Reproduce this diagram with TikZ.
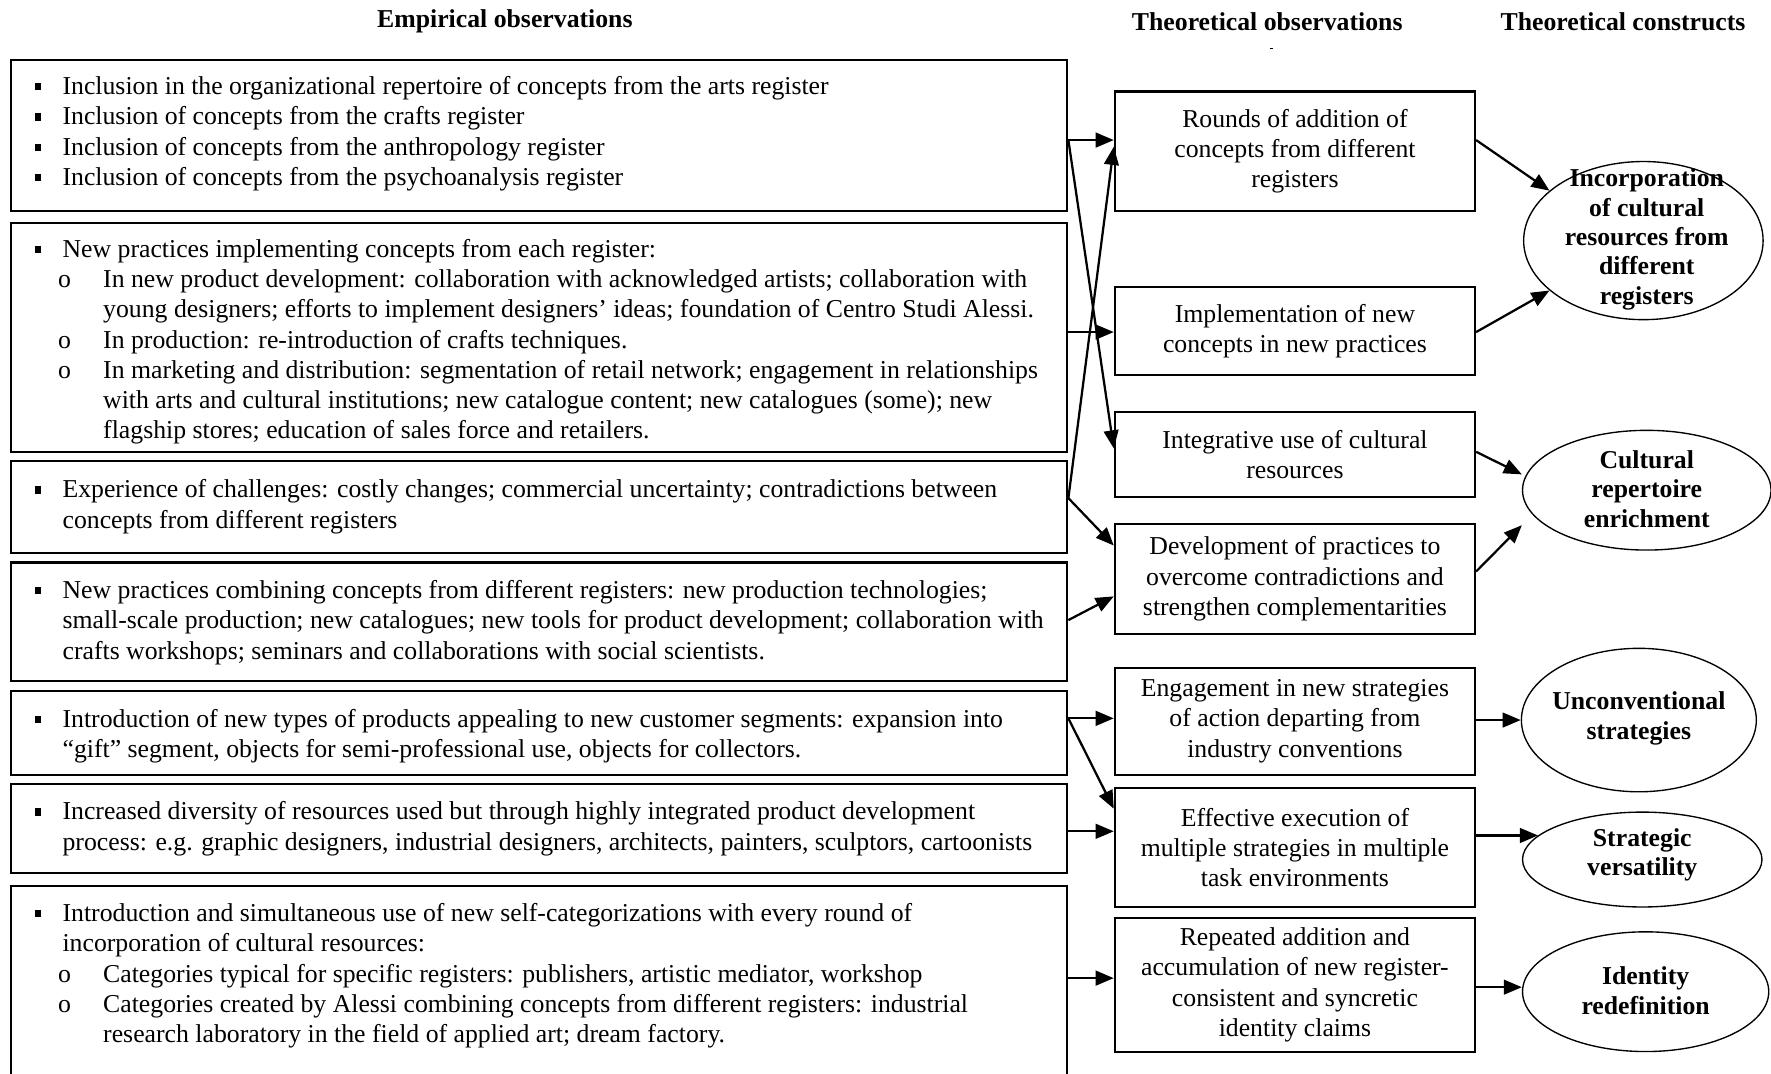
\documentclass[tikz,border=0pt]{standalone}
\usepackage{fontspec}
\setmainfont{Liberation Serif}
\usetikzlibrary{arrows.meta,shapes.geometric}
\newcommand\bsq{\raisebox{1.9pt}{\rule{2.6pt}{3.2pt}}}
\newcommand\Ba[1]{\makebox[12pt][l]{\bsq}#1}
\newcommand\Bc[1]{\hspace*{12pt}#1}
\newcommand\Sa[1]{\hspace*{10pt}\makebox[20pt][l]{o}#1}
\newcommand\Sc[1]{\hspace*{30pt}#1}
\tikzset{
  txtfont/.style={font=\fontsize{11.4pt}{13.4pt}\selectfont},
  lbox/.style={draw, line width=0.9pt, minimum width=467.5pt, inner sep=0pt},
  ltext/.style={txtfont, align=left, anchor=north west, inner sep=0pt},
  mbox/.style={draw, line width=0.9pt, minimum width=159.5pt, inner sep=0pt, txtfont, align=center},
  ell/.style={draw, ellipse, line width=0.6pt, inner sep=0pt},
  etext/.style={font=\fontsize{11.4pt}{13pt}\selectfont\bfseries, align=center, inner sep=0pt},
  hdr/.style={font=\fontsize{11.4pt}{13pt}\selectfont\bfseries, inner sep=0pt},
  arr/.style={line width=1pt, -{Triangle[length=8pt,width=6.5pt]}}
}
\begin{document}
\begin{tikzpicture}[x=0.5pt,y=-0.5pt]
\useasboundingbox (0,0) rectangle (1568,950);
\fill[white] (0,0) rectangle (1568,950);
\clip (0,0) rectangle (1568,950);

% headers
\node[hdr] (h1) at (447,19) {Empirical observations};
\node[hdr] (h2) at (1122,19) {Theoretical observations};
\node[hdr] (h3) at (1437,19) {Theoretical constructs};
\draw[line width=0.6pt] (1124,43) -- (1127,43);

% left boxes
\node[lbox, minimum height=67pt]   (B1) at (477.5,120) {};
\node[lbox, minimum height=101.5pt] (B2) at (477.5,298.5) {};
\node[lbox, minimum height=41pt]   (B3) at (477.5,449) {};
\node[lbox, minimum height=52.5pt] (B4) at (477.5,550.5) {};
\node[lbox, minimum height=37pt]   (B5) at (477.5,649) {};
\node[lbox, minimum height=39.5pt] (B6) at (477.5,733.5) {};
\node[lbox, minimum height=103pt]  (B7) at (477.5,887) {};

\node[ltext] (T1) at (31,67.4) {%
\Ba{Inclusion in the organizational repertoire of concepts from the arts register}\\
\Ba{Inclusion of concepts from the crafts register}\\
\Ba{Inclusion of concepts from the anthropology register}\\
\Ba{Inclusion of concepts from the psychoanalysis register}};

\node[ltext] (T2) at (31,211.4) {%
\Ba{New practices implementing concepts from each register:}\\
\Sa{In new product development: collaboration with acknowledged artists; collaboration with}\\
\Sc{young designers; efforts to implement designers’ ideas; foundation of Centro Studi Alessi.}\\
\Sa{In production: re-introduction of crafts techniques.}\\
\Sa{In marketing and distribution: segmentation of retail network; engagement in relationships}\\
\Sc{with arts and cultural institutions; new catalogue content; new catalogues (some); new}\\
\Sc{flagship stores; education of sales force and retailers.}};

\node[ltext] (T3) at (31,424.4) {%
\Ba{Experience of challenges: costly changes; commercial uncertainty; contradictions between}\\
\Bc{concepts from different registers}};

\node[ltext] (T4) at (31,513.4) {%
\Ba{New practices combining concepts from different registers: new production technologies;}\\
\Bc{small-scale production; new catalogues; new tools for product development; collaboration with}\\
\Bc{crafts workshops; seminars and collaborations with social scientists.}};

\node[ltext] (T5) at (31,627.4) {%
\Ba{Introduction of new types of products appealing to new customer segments: expansion into}\\
\Bc{“gift” segment, objects for semi-professional use, objects for collectors.}};

\node[ltext] (T6) at (31,709.4) {%
\Ba{Increased diversity of resources used but through highly integrated product development}\\
\Bc{process: e.g. graphic designers, industrial designers, architects, painters, sculptors, cartoonists}};

\node[ltext] (T7) at (31,799.4) {%
\Ba{Introduction and simultaneous use of new self-categorizations with every round of}\\
\Bc{incorporation of cultural resources:}\\
\Sa{Categories typical for specific registers: publishers, artistic mediator, workshop}\\
\Sa{Categories created by Alessi combining concepts from different registers: industrial}\\
\Sc{research laboratory in the field of applied art; dream factory.}};

% middle boxes
\node[mbox, minimum height=53pt]   (M1) at (1146.5,134)   {Rounds of addition of\\concepts from different\\registers};
\node[mbox, minimum height=39pt]   (M2) at (1146.5,293)   {Implementation of new\\concepts in new practices};
\node[mbox, minimum height=37.5pt] (M3) at (1146.5,402.5) {Integrative use of cultural\\resources};
\node[mbox, minimum height=48.5pt] (M4) at (1146.5,512.5) {Development of practices to\\overcome contradictions and\\strengthen complementarities};
\node[mbox, minimum height=47.5pt] (M5) at (1146.5,638.5) {Engagement in new strategies\\of action departing from\\industry conventions};
\node[mbox, minimum height=52.5pt] (M6) at (1146.5,750.5) {Effective execution of\\multiple strategies in multiple\\task environments};
\node[mbox, minimum height=59pt]   (M7) at (1146.5,872)   {Repeated addition and\\accumulation of new register-\\consistent and syncretic\\identity claims};

% ellipses
\node[ell, minimum width=106pt, minimum height=70pt]   (E1) at (1455,213) {};
\node[ell, minimum width=110pt, minimum height=53pt]   (E2) at (1458,434) {};
\node[ell, minimum width=104pt, minimum height=63.5pt] (E3) at (1451,637.5) {};
\node[ell, minimum width=106pt, minimum height=42pt]   (E4) at (1454,761) {};
\node[ell, minimum width=109pt, minimum height=53pt]   (E5) at (1457,878) {};
\node[etext] (E1t) at (1458,212) {Incorporation\\of cultural\\resources from\\different\\registers};
\node[etext] (E2t) at (1458,433) {Cultural\\repertoire\\enrichment};
\node[etext] (E3t) at (1451,636) {Unconventional\\strategies};
\node[etext] (E4t) at (1454,757) {Strategic\\versatility};
\node[etext] (E5t) at (1457,877) {Identity\\redefinition};

% connectors left -> middle
\draw[arr] (B1.east |- 0,124) -- (M1.west |- 0,124);
\draw[arr] (B1.east |- 0,124) -- (M3.west |- 0,397);
\draw[arr] (B2.east |- 0,294) -- (M2.west |- 0,294);
\draw[arr] (B3.east |- 0,441) -- (M1.west |- 0,130);
\draw[arr] (B3.east |- 0,441) -- (M4.west |- 0,483);
\draw[arr] (B4.east |- 0,549) -- (M4.west |- 0,528);
\draw[arr] (B5.east |- 0,636) -- (M5.west |- 0,636);
\draw[arr] (B5.east |- 0,636) -- (M6.west |- 0,716);
\draw[arr] (B6.east |- 0,736) -- (M6.west |- 0,736);
\draw[arr] (B7.east |- 0,866) -- (M7.west |- 0,866);

% connectors middle -> constructs
\draw[arr] (M1.east |- 0,124) -- (E1.152);
\draw[arr] (M2.east |- 0,294) -- (E1.208);
\draw[arr] (M3.east |- 0,400) -- (E2.west |- 0,420);
\draw[arr] (M4.east |- 0,506) -- (E2.west |- 0,465);
\draw[arr] (M5.east |- E3.west) -- (E3.west);
\draw[arr] (M6.east |- E4.167) -- (E4.167);
\draw[arr] (M7.east |- 0,874) -- (E5.west |- 0,874);
\end{tikzpicture}
\end{document}
